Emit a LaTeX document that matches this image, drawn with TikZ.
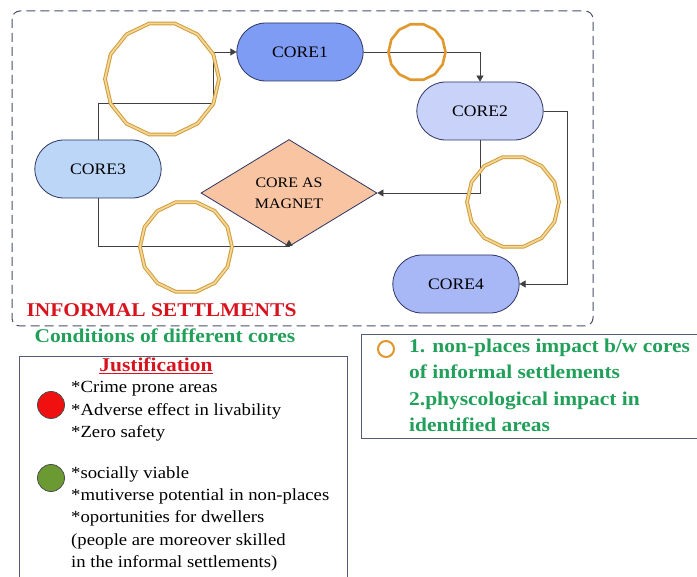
\documentclass[tikz,border=0pt]{standalone}
\usepackage{fontspec}
\setmainfont{Liberation Serif}[FakeStretch=1.1]
\usetikzlibrary{shapes.misc,shapes.geometric,arrows.meta}
\definecolor{coreone}{HTML}{7F9CF4}
\definecolor{coretwo}{HTML}{C9D2F9}
\definecolor{corethree}{HTML}{BCD6F8}
\definecolor{corefour}{HTML}{A8B8F6}
\definecolor{coreline}{HTML}{2D3560}
\definecolor{magnetfill}{HTML}{F8C4A2}
\definecolor{linegray}{HTML}{404040}
\definecolor{framegray}{HTML}{4A4E68}
\definecolor{boxgray}{HTML}{555A75}
\definecolor{ringgold}{HTML}{D49C38}
\definecolor{ringpale}{HTML}{F0D79A}
\definecolor{ringorange}{HTML}{E0982C}
\definecolor{titlered}{HTML}{D7141E}
\definecolor{notegreen}{HTML}{22A05A}
\definecolor{dotred}{HTML}{F01010}
\definecolor{dotgreen}{HTML}{6B9A32}
\begin{document}
\begin{tikzpicture}[x=1pt,y=-1pt,
    core/.style={rounded rectangle, draw=coreline, line width=0.8pt, minimum width=133pt, minimum height=58pt, font=\fontsize{16}{19}\selectfont},
    ring/.style={regular polygon, regular polygon sides=14, draw=ringgold, double=ringpale, double distance=1.8pt, line width=1pt, inner sep=0pt},
    link/.style={draw=linegray, line width=0.8pt, -{Triangle[length=6pt,width=7pt]}}]
        \useasboundingbox (0,0) rectangle (697,577);
        \clip (0,0) rectangle (697,577);

        % frame of the settlement
        \draw [draw=framegray, line width=1pt, dash pattern=on 9pt off 5pt, rounded corners=8pt] (12,11) rectangle (593,326);

        \node [core, fill=coreone] (core1) at (300,52) {CORE1};
        \node [core, fill=coretwo] (core2) at (480,111) {CORE2};
        \node [core, fill=corethree] (core3) at (98,169) {CORE3};
        \node [core, fill=corefour] (core4) at (456,284) {CORE4};
        \node [diamond, draw=coreline, line width=0.8pt, fill=magnetfill, aspect=1.6, inner sep=0pt, minimum width=176pt, minimum height=107pt, align=center, font=\fontsize{14.5}{21}\selectfont] (magnet) at (289,193) {CORE AS\\MAGNET};

        \coordinate (bendA) at (213,103);
        \draw [link] (core3.north) |- (bendA) |- (core1.west);
        \draw [link] (core1.east) -| (core2.north);
        \draw [link] (core2.south) |- (magnet.east);
        \draw [link] (core2.east) -- ++(24,0) |- (core4.east);
        \draw [link] (core3.south) |- (magnet.south) -- ([yshift=7pt]magnet.south);

        % non-places between the cores
        \node [ring, minimum size=114pt] (ringA) at (162,79) {};
        \node [ring, draw=ringorange, line width=2.6pt, double=none, minimum size=57pt] (ringB) at (417,52) {};
        \node [ring, minimum size=92pt] (ringC) at (513,202) {};
        \node [ring, minimum size=92pt] (ringD) at (186,247) {};

        \node [anchor=base west, text=titlered, font=\bfseries\fontsize{19.5}{22}\selectfont] (title) at (23,317) {INFORMAL SETTLMENTS};
        \node [anchor=base west, text=notegreen, font=\bfseries\fontsize{19.5}{22}\selectfont] (subtitle) at (31,343) {Conditions of different cores};

        % justification box
        \draw [draw=boxgray, line width=0.8pt] (19,356) rectangle (347,600);
        \node [anchor=base, text=titlered, font=\bfseries\fontsize{19.5}{22}\selectfont] (just) at (156,372) {\underline{Justification}};
        \node [circle, fill=dotred, draw=black!70, line width=0.8pt, minimum size=27pt, inner sep=0pt] (reddot) at (51,405) {};
        \node [circle, fill=dotgreen, draw=black!70, line width=0.8pt, minimum size=27pt, inner sep=0pt] (greendot) at (51,478) {};
        \node [anchor=base west, align=left, inner sep=0pt, font=\fontsize{17}{22.5}\selectfont] (badtext) at (71,438) {*Crime prone areas\\*Adverse effect in livability\\*Zero safety};
        \node [anchor=base west, align=left, inner sep=0pt, font=\fontsize{17}{22.5}\selectfont] (goodtext) at (71,568) {*socially viable\\*mutiverse potential in non-places\\*oportunities for dwellers\\(people are moreover skilled\\in the informal settlements)};

        % legend box
        \draw [draw=boxgray, line width=0.8pt] (361,334) rectangle (710,438);
        \node [circle, draw=ringorange, line width=2pt, minimum size=16pt, inner sep=0pt] (legdot) at (386,349) {};
        \node [anchor=base west, align=left, inner sep=0pt, text=notegreen, font=\bfseries\fontsize{19.5}{26.5}\selectfont] (legtext) at (409,432) {1. non-places impact b/w cores\\of informal settlements\\2.physcological impact in\\identified areas};
\end{tikzpicture}
\end{document}
